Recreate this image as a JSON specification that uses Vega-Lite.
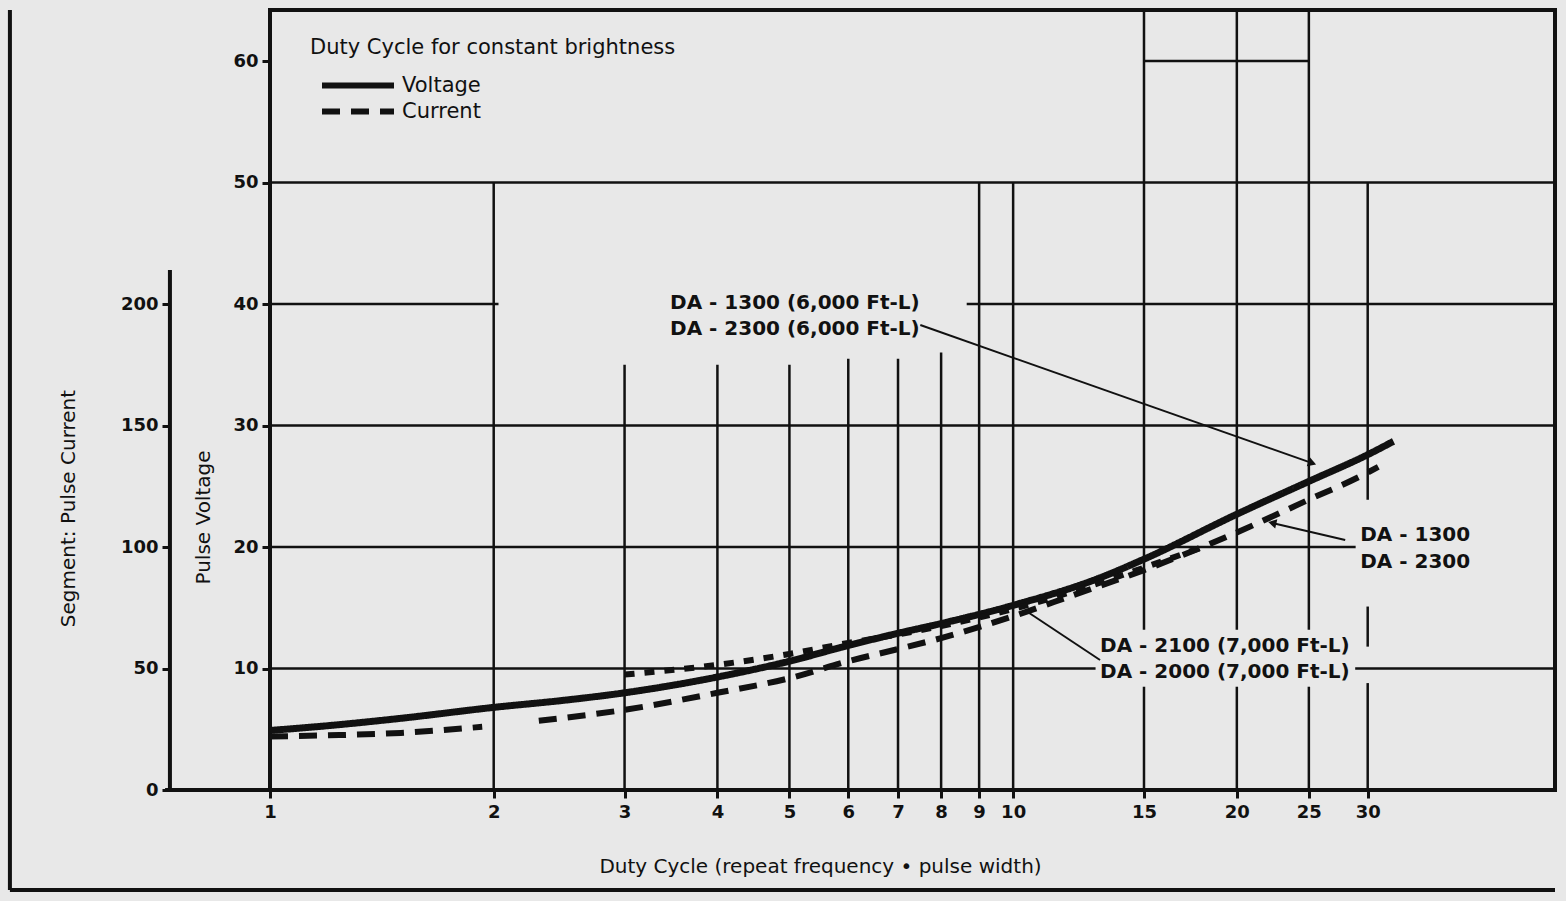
{
  "$schema": "https://vega.github.io/schema/vega-lite/v6.json",
  "width": 1285,
  "height": 780,
  "autosize": {"type": "none"},
  "padding": {"left": 270, "top": 10, "right": 11, "bottom": 111},
  "background": "#e8e8e8",
  "config": {
    "font": "DejaVu Sans",
    "view": {"stroke": "#111", "strokeWidth": 4},
    "axis": {"labelFont": "DejaVu Sans", "titleFont": "DejaVu Sans", "labelColor": "#111", "titleColor": "#111", "tickColor": "#111", "grid": false, "labelFontWeight": "bold", "titleFontWeight": "normal"},
    "legend": {"labelFont": "DejaVu Sans", "titleFont": "DejaVu Sans"}
  },
  "datasets": {
    "voltage": [
      {"x": 1, "voltage": 4.9, "series": "Voltage"},
      {"x": 1.2, "voltage": 5.3, "series": "Voltage"},
      {"x": 1.5, "voltage": 5.9, "series": "Voltage"},
      {"x": 2, "voltage": 6.8, "series": "Voltage"},
      {"x": 2.5, "voltage": 7.4, "series": "Voltage"},
      {"x": 3, "voltage": 8.0, "series": "Voltage"},
      {"x": 4, "voltage": 9.3, "series": "Voltage"},
      {"x": 5, "voltage": 10.6, "series": "Voltage"},
      {"x": 6, "voltage": 11.9, "series": "Voltage"},
      {"x": 7, "voltage": 12.9, "series": "Voltage"},
      {"x": 8, "voltage": 13.7, "series": "Voltage"},
      {"x": 10, "voltage": 15.2, "series": "Voltage"},
      {"x": 13, "voltage": 17.4, "series": "Voltage"},
      {"x": 15, "voltage": 19.0, "series": "Voltage"},
      {"x": 20, "voltage": 22.7, "series": "Voltage"},
      {"x": 25, "voltage": 25.4, "series": "Voltage"},
      {"x": 30, "voltage": 27.6, "series": "Voltage"},
      {"x": 32.5, "voltage": 28.7, "series": "Voltage"}
    ],
    "current": [
      {"x": 1, "current": 22, "series": "Current", "part": "a"},
      {"x": 1.2, "current": 22.5, "series": "Current", "part": "a"},
      {"x": 1.5, "current": 23.5, "series": "Current", "part": "a"},
      {"x": 1.93, "current": 26, "series": "Current", "part": "a"},
      {"x": 2.3, "current": 28.5, "series": "Current", "part": "b"},
      {"x": 3, "current": 33, "series": "Current", "part": "b"},
      {"x": 4, "current": 40, "series": "Current", "part": "b"},
      {"x": 5, "current": 46, "series": "Current", "part": "b"},
      {"x": 6, "current": 53, "series": "Current", "part": "b"},
      {"x": 7, "current": 58, "series": "Current", "part": "b"},
      {"x": 8, "current": 62.5, "series": "Current", "part": "b"},
      {"x": 10, "current": 71.5, "series": "Current", "part": "b"},
      {"x": 12, "current": 80, "series": "Current", "part": "b"},
      {"x": 15, "current": 90.5, "series": "Current", "part": "b"},
      {"x": 20, "current": 106, "series": "Current", "part": "b"},
      {"x": 25, "current": 119.5, "series": "Current", "part": "b"},
      {"x": 29.5, "current": 129.5, "series": "Current", "part": "b"},
      {"x": 31, "current": 133, "series": "Current", "part": "b"},
      {"x": 3, "current": 47.5, "series": "Current (DA-2100/2000)", "part": "c"},
      {"x": 4, "current": 51.5, "series": "Current (DA-2100/2000)", "part": "c"},
      {"x": 5, "current": 56, "series": "Current (DA-2100/2000)", "part": "c"},
      {"x": 6, "current": 60.5, "series": "Current (DA-2100/2000)", "part": "c"},
      {"x": 7, "current": 64, "series": "Current (DA-2100/2000)", "part": "c"},
      {"x": 8, "current": 67.5, "series": "Current (DA-2100/2000)", "part": "c"},
      {"x": 10, "current": 74.5, "series": "Current (DA-2100/2000)", "part": "c"},
      {"x": 13, "current": 85, "series": "Current (DA-2100/2000)", "part": "c"},
      {"x": 15, "current": 91.5, "series": "Current (DA-2100/2000)", "part": "c"},
      {"x": 18, "current": 100, "series": "Current (DA-2100/2000)", "part": "c"}
    ],
    "hgrid": [
      {"y": 10, "x": 1, "x2": 12.91},
      {"y": 10, "x": 28.86, "x2": 53.6},
      {"y": 20, "x": 1, "x2": 28.9},
      {"y": 30, "x": 1, "x2": 53.6},
      {"y": 40, "x": 1, "x2": 2.03},
      {"y": 40, "x": 8.66, "x2": 53.6},
      {"y": 50, "x": 1, "x2": 53.6},
      {"y": 60, "x": 15, "x2": 25}
    ],
    "vgrid": [
      {"x": 2, "y": 0, "y2": 50},
      {"x": 3, "y": 0, "y2": 35},
      {"x": 4, "y": 0, "y2": 35},
      {"x": 5, "y": 0, "y2": 35},
      {"x": 6, "y": 0, "y2": 35.5},
      {"x": 7, "y": 0, "y2": 35.5},
      {"x": 8, "y": 0, "y2": 36},
      {"x": 9, "y": 0, "y2": 50},
      {"x": 10, "y": 0, "y2": 50},
      {"x": 15, "y": 0, "y2": 8.5},
      {"x": 15, "y": 13.2, "y2": 64.2},
      {"x": 20, "y": 0, "y2": 8.5},
      {"x": 20, "y": 13.2, "y2": 64.2},
      {"x": 25, "y": 0, "y2": 8.5},
      {"x": 25, "y": 13.2, "y2": 64.2},
      {"x": 30, "y": 0, "y2": 8.8},
      {"x": 30, "y": 11.8, "y2": 15.1},
      {"x": 30, "y": 23.9, "y2": 50}
    ],
    "frame": [
      {"x": 0.4467, "x2": 0.4467, "y": -8.23, "y2": 64.2},
      {"x": 0.4467, "x2": 53.6, "y": -8.23, "y2": -8.23},
      {"x": 0.7225, "x2": 1, "y": 0, "y2": 0}
    ],
    "leaders": [
      {"id": "a", "x": 7.5, "y": 38.27, "x2": 25.26, "y2": 26.9},
      {"id": "b", "x": 27.98, "y": 20.58, "x2": 22.32, "y2": 21.98},
      {"id": "c", "x": 13.09, "y": 10.7, "x2": 10.51, "y2": 14.57}
    ],
    "notes": [
      {"x": 3.454, "y": 40.08, "label": "DA - 1300 (6,000 Ft-L)"},
      {"x": 3.454, "y": 37.94, "label": "DA - 2300 (6,000 Ft-L)"},
      {"x": 29.31, "y": 20.99, "label": "DA - 1300"},
      {"x": 29.31, "y": 18.77, "label": "DA - 2300"},
      {"x": 13.09, "y": 11.85, "label": "DA - 2100 (7,000 Ft-L)"},
      {"x": 13.09, "y": 9.71, "label": "DA - 2000 (7,000 Ft-L)"}
    ]
  },
  "layer": [
    {
      "layer": [
        {
          "data": {"name": "hgrid"},
          "mark": {"type": "rule", "stroke": "#111", "strokeWidth": 2.5},
          "encoding": {
            "x": {"field": "x", "type": "quantitative", "scale": {"type": "log", "domain": [1, 53.6], "nice": false},
              "axis": {"title": "Duty Cycle (repeat frequency • pulse width)", "values": [1, 2, 3, 4, 5, 6, 7, 8, 9, 10, 15, 20, 25, 30], "labelFontSize": 18, "labelPadding": 5, "tickSize": 8, "tickWidth": 3, "domain": false, "labelOverlap": false, "labelFlush": false, "titleFontSize": 20, "titleX": 550, "titleY": 76, "titleAlign": "center", "titleBaseline": "middle"}},
            "x2": {"field": "x2"},
            "y": {"field": "y", "type": "quantitative", "scale": {"domain": [0, 64.2], "nice": false, "zero": false},
              "axis": {"title": "Pulse Voltage", "values": [10, 20, 30, 40, 50, 60], "labelFontSize": 18, "labelPadding": 4, "tickSize": 8, "tickWidth": 3, "domain": false, "titleFontSize": 20, "titleX": -67, "titleY": 507, "titleAngle": 270, "titleAlign": "center", "titleBaseline": "middle"}}
          }
        },
        {
          "data": {"name": "vgrid"},
          "mark": {"type": "rule", "stroke": "#111", "strokeWidth": 2.5},
          "encoding": {
            "x": {"field": "x", "type": "quantitative", "scale": {"type": "log", "domain": [1, 53.6], "nice": false}},
            "y": {"field": "y", "type": "quantitative", "scale": {"domain": [0, 64.2], "nice": false, "zero": false}},
            "y2": {"field": "y2"}
          }
        },
        {
          "data": {"name": "frame"},
          "mark": {"type": "rule", "stroke": "#111", "strokeWidth": 4},
          "encoding": {
            "x": {"field": "x", "type": "quantitative", "scale": {"type": "log", "domain": [1, 53.6], "nice": false}},
            "x2": {"field": "x2"},
            "y": {"field": "y", "type": "quantitative", "scale": {"domain": [0, 64.2], "nice": false, "zero": false}},
            "y2": {"field": "y2"}
          }
        },
        {
          "data": {"name": "leaders"},
          "mark": {"type": "rule", "stroke": "#111", "strokeWidth": 2},
          "encoding": {
            "x": {"field": "x", "type": "quantitative", "scale": {"type": "log", "domain": [1, 53.6], "nice": false}},
            "x2": {"field": "x2"},
            "y": {"field": "y", "type": "quantitative", "scale": {"domain": [0, 64.2], "nice": false, "zero": false}},
            "y2": {"field": "y2"}
          }
        },
        {
          "data": {"name": "leaders"},
          "transform": [{"filter": "datum.id === 'a'"}],
          "mark": {"type": "point", "shape": "triangle-right", "filled": true, "color": "#111", "size": 90, "angle": 19, "opacity": 1},
          "encoding": {
            "x": {"field": "x2", "type": "quantitative", "scale": {"type": "log", "domain": [1, 53.6], "nice": false}},
            "y": {"field": "y2", "type": "quantitative", "scale": {"domain": [0, 64.2], "nice": false, "zero": false}}
          }
        },
        {
          "data": {"name": "leaders"},
          "transform": [{"filter": "datum.id === 'b'"}],
          "mark": {"type": "point", "shape": "triangle-right", "filled": true, "color": "#111", "size": 90, "angle": 193, "opacity": 1},
          "encoding": {
            "x": {"field": "x2", "type": "quantitative", "scale": {"type": "log", "domain": [1, 53.6], "nice": false}},
            "y": {"field": "y2", "type": "quantitative", "scale": {"domain": [0, 64.2], "nice": false, "zero": false}}
          }
        },
        {
          "data": {"name": "voltage"},
          "mark": {"type": "line", "color": "#111", "strokeWidth": 7, "interpolate": "monotone", "strokeCap": "butt"},
          "encoding": {
            "x": {"field": "x", "type": "quantitative", "scale": {"type": "log", "domain": [1, 53.6], "nice": false}},
            "y": {"field": "voltage", "type": "quantitative", "scale": {"domain": [0, 64.2], "nice": false, "zero": false}},
            "strokeDash": {"field": "series", "type": "nominal",
              "scale": {"domain": ["Voltage", "Current", "Current (DA-2100/2000)"], "range": [[1, 0], [18, 11], [10, 10]]},
              "legend": {"values": ["Voltage", "Current"], "title": "Duty Cycle for constant brightness", "orient": "none", "legendX": 40, "legendY": 27,
                "symbolType": "M0.2,0H9.8", "symbolStrokeWidth": 6, "symbolSize": 225, "symbolStrokeColor": "#111",
                "labelFontSize": 21, "labelColor": "#111", "titleFontSize": 21, "titleFontWeight": "normal", "titleColor": "#111", "titleLimit": 600,
                "padding": 0, "titlePadding": 17, "labelOffset": 71, "rowPadding": 1}}
          }
        },
        {
          "data": {"name": "notes"},
          "mark": {"type": "text", "align": "left", "baseline": "middle", "fontSize": 20, "fontWeight": "bold", "color": "#111"},
          "encoding": {
            "x": {"field": "x", "type": "quantitative", "scale": {"type": "log", "domain": [1, 53.6], "nice": false}},
            "y": {"field": "y", "type": "quantitative", "scale": {"domain": [0, 64.2], "nice": false, "zero": false}},
            "text": {"field": "label"}
          }
        }
      ]
    },
    {
      "layer": [
        {
          "data": {"name": "current"},
          "mark": {"type": "line", "color": "#111", "strokeWidth": 6, "interpolate": "monotone", "strokeCap": "butt"},
          "encoding": {
            "x": {"field": "x", "type": "quantitative", "scale": {"type": "log", "domain": [1, 53.6], "nice": false}},
            "y": {"field": "current", "type": "quantitative", "scale": {"domain": [0, 321], "nice": false, "zero": false},
              "axis": {"orient": "left", "offset": 100, "title": "Segment: Pulse Current", "values": [0, 50, 100, 150, 200], "labelFontSize": 18, "labelPadding": 4, "tickSize": 8, "tickWidth": 3, "domain": false, "titleFontSize": 20, "titleX": -102, "titleY": 498, "titleAngle": 270, "titleAlign": "center", "titleBaseline": "middle"}},
            "strokeDash": {"field": "series", "type": "nominal", "legend": null},
            "detail": {"field": "part"}
          }
        },
        {
          "data": {"values": [{"x": 0.7334, "current": 0, "current2": 214}]},
          "mark": {"type": "rule", "stroke": "#111", "strokeWidth": 4},
          "encoding": {
            "x": {"field": "x", "type": "quantitative", "scale": {"type": "log", "domain": [1, 53.6], "nice": false}},
            "y": {"field": "current", "type": "quantitative", "scale": {"domain": [0, 321], "nice": false, "zero": false}},
            "y2": {"field": "current2"}
          }
        }
      ]
    }
  ],
  "resolve": {"scale": {"y": "independent"}}
}
